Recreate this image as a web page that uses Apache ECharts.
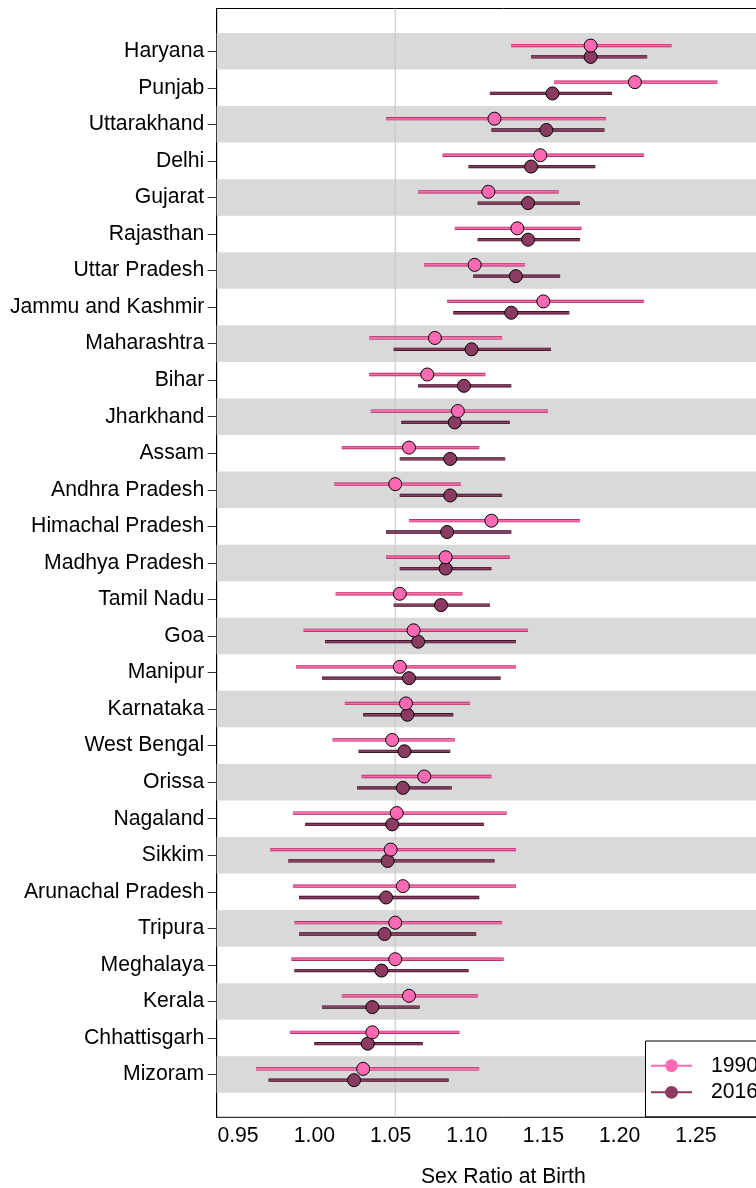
<!DOCTYPE html>
<html>
<head>
<meta charset="utf-8">
<script src="https://cdn.jsdelivr.net/npm/echarts@6/dist/echarts.min.js"></script>
<style>
  html, body { margin: 0; padding: 0; background: #fff; overflow: hidden; }
  #chart { width: 800px; height: 1188px; }
</style>
</head>
<body>
<div id="chart"></div>
<script>
// ---- data ----
const states = ['Haryana','Punjab','Uttarakhand','Delhi','Gujarat','Rajasthan','Uttar Pradesh',
  'Jammu and Kashmir','Maharashtra','Bihar','Jharkhand','Assam','Andhra Pradesh','Himachal Pradesh',
  'Madhya Pradesh','Tamil Nadu','Goa','Manipur','Karnataka','West Bengal','Orissa','Nagaland',
  'Sikkim','Arunachal Pradesh','Tripura','Meghalaya','Kerala','Chhattisgarh','Mizoram'];

const est1990 = [1.181,1.210,1.118,1.148,1.114,1.133,1.105,1.150,1.079,1.074,1.094,1.062,1.053,1.116,
  1.086,1.056,1.065,1.056,1.060,1.051,1.072,1.054,1.050,1.058,1.053,1.053,1.062,1.038,1.032];
const lo1990 = [1.129,1.157,1.047,1.084,1.068,1.092,1.072,1.087,1.036,1.036,1.037,1.018,1.013,1.062,
  1.047,1.014,0.993,0.988,1.020,1.012,1.031,0.986,0.971,0.986,0.987,0.985,1.018,0.984,0.962];
const hi1990 = [1.234,1.264,1.191,1.216,1.160,1.175,1.138,1.216,1.123,1.112,1.153,1.108,1.096,1.174,
  1.128,1.097,1.140,1.132,1.102,1.092,1.116,1.126,1.132,1.132,1.123,1.124,1.107,1.095,1.108];

const est2016 = [1.181,1.156,1.152,1.142,1.140,1.140,1.132,1.129,1.103,1.098,1.092,1.089,1.089,1.087,
  1.086,1.083,1.068,1.062,1.061,1.059,1.058,1.051,1.048,1.047,1.046,1.044,1.038,1.035,1.026];
const lo2016 = [1.142,1.115,1.116,1.101,1.107,1.107,1.104,1.091,1.052,1.068,1.057,1.056,1.056,1.047,
  1.056,1.052,1.007,1.005,1.032,1.029,1.028,0.994,0.983,0.990,0.990,0.987,1.005,1.000,0.970];
const hi2016 = [1.218,1.195,1.190,1.184,1.174,1.174,1.161,1.167,1.155,1.129,1.128,1.125,1.123,1.129,
  1.116,1.115,1.132,1.122,1.091,1.089,1.090,1.111,1.118,1.108,1.106,1.101,1.069,1.071,1.088];

const xTicks = [0.95, 1.00, 1.05, 1.10, 1.15, 1.20, 1.25];
const referenceRatio = 1.053;
const seriesNames = ['1990', '2016'];
const axisTitle = 'Sex Ratio at Birth';

// ---- styling ----
const FONT = "'Liberation Sans', Arial, Helvetica, sans-serif";
const FS = 21.2;
const PINK = '#FF69B4';
const MAROON = '#8B3A62';
const BAND = '#d9d9d9';
const OFFSET = 0.155;          // vertical offset of each year within its row (row units)
const X_MIN = 0.93605, X_MAX = 1.31159;
const Y_MIN = -1.17, Y_MAX = 29.17;

const rowIdx = states.map((_, i) => i);
const shaded = rowIdx.filter(i => i % 2 === 0);

function barData(lo, hi, off) {
  return rowIdx.map(i => [lo[i], hi[i], i + off]);
}
function pointData(est, off) {
  return rowIdx.map(i => [est[i], i + off]);
}

function errRender(color, under) {
  return function (params, api) {
    const y = api.value(2);
    const p1 = api.coord([api.value(0), y]);
    const p2 = api.coord([api.value(1), y]);
    return {
      type: 'group',
      children: [
        { type: 'line', shape: { x1: p1[0], y1: p1[1], x2: p2[0], y2: p2[1] },
          style: { stroke: under, lineWidth: 3.3, lineCap: 'butt' } },
        { type: 'line', shape: { x1: p1[0], y1: p1[1], x2: p2[0], y2: p2[1] },
          style: { stroke: color, lineWidth: 2.0, lineCap: 'butt' } }
      ]
    };
  };
}

const chart = echarts.init(document.getElementById('chart'), null, { renderer: 'canvas' });
chart.setOption({
  animation: false,
  backgroundColor: '#fff',
  textStyle: { fontFamily: FONT },
  grid: {
    left: 216.7, top: 8.5, width: 573.3, height: 1108.8,
    outerBoundsMode: 'none', containLabel: false,
    show: true, borderColor: '#000', borderWidth: 1, backgroundColor: 'transparent'
  },
  xAxis: {
    type: 'value', min: X_MIN, max: X_MAX,
    axisLine: { show: true, lineStyle: { color: '#000', width: 1 } },
    axisTick: { show: true, length: 9, customValues: xTicks, lineStyle: { color: '#333' } },
    axisLabel: { customValues: xTicks, formatter: v => v.toFixed(2), fontSize: FS, color: '#000',
      margin: 8.5, fontFamily: FONT },
    splitLine: { show: false },
    name: axisTitle, nameLocation: 'middle', nameGap: 49,
    nameTextStyle: { fontSize: FS, color: '#000', fontFamily: FONT }
  },
  yAxis: {
    type: 'value', inverse: true, min: Y_MIN, max: Y_MAX,
    axisLine: { show: true, lineStyle: { color: '#000', width: 1 } },
    axisTick: { show: true, length: 9, customValues: rowIdx, lineStyle: { color: '#333' } },
    axisLabel: { customValues: rowIdx, formatter: v => states[Math.round(v)], fontSize: FS,
      color: '#000', margin: 12.5, fontFamily: FONT },
    splitLine: { show: false }
  },
  legend: {
    orient: 'vertical', left: 645.5, top: 1041,
    data: seriesNames,
    itemWidth: 41, itemHeight: 16, itemGap: 5.6,
    padding: [14.2, 14, 14, 4.5],
    borderColor: '#000', borderWidth: 1, borderRadius: 0, backgroundColor: '#fff',
    textStyle: { fontSize: FS, color: '#000', fontFamily: FONT, lineHeight: 20, padding: [0, 0, 0, 14] },
    selectedMode: false
  },
  series: [
    {
      type: 'custom', name: 'bands', silent: true, z: 1,
      data: shaded.map(i => [i]),
      encode: { y: 0 },
      renderItem: function (params, api) {
        const i = api.value(0);
        const cs = params.coordSys;
        const a = api.coord([X_MIN, i - 0.5]);
        const b = api.coord([X_MIN, i + 0.5]);
        return { type: 'rect',
          shape: { x: cs.x, y: Math.min(a[1], b[1]), width: cs.width, height: Math.abs(b[1] - a[1]) },
          style: { fill: BAND } };
      }
    },
    {
      type: 'custom', name: 'reference', silent: true, z: 2,
      data: [[referenceRatio]],
      encode: { x: 0 },
      renderItem: function (params, api) {
        const v = api.value(0);
        const a = api.coord([v, Y_MIN]);
        const b = api.coord([v, Y_MAX]);
        return { type: 'line', shape: { x1: a[0], y1: a[1], x2: b[0], y2: b[1] },
          style: { stroke: '#c6c6c6', lineWidth: 1 } };
      }
    },
    {
      type: 'custom', name: '2016 bars', silent: true, z: 3,
      data: barData(lo2016, hi2016, OFFSET),
      encode: { x: [0, 1], y: 2 },
      renderItem: errRender(MAROON, '#2a0c1b')
    },
    {
      type: 'custom', name: '1990 bars', silent: true, z: 3,
      data: barData(lo1990, hi1990, -OFFSET),
      encode: { x: [0, 1], y: 2 },
      renderItem: errRender(PINK, '#a3204f')
    },
    {
      type: 'scatter', name: '2016 points', z: 4, silent: true,
      data: pointData(est2016, OFFSET),
      symbol: 'circle', symbolSize: 13,
      itemStyle: { color: MAROON, borderColor: '#000', borderWidth: 1, opacity: 1 }
    },
    {
      type: 'scatter', name: '1990 points', z: 5, silent: true,
      data: pointData(est1990, -OFFSET),
      symbol: 'circle', symbolSize: 13,
      itemStyle: { color: PINK, borderColor: '#000', borderWidth: 1, opacity: 1 }
    },
    {
      type: 'line', name: seriesNames[0], data: [], symbol: 'circle', symbolSize: 13,
      itemStyle: { color: PINK, borderWidth: 0 },
      lineStyle: { color: PINK, width: 3.3 }
    },
    {
      type: 'line', name: seriesNames[1], data: [], symbol: 'circle', symbolSize: 13,
      itemStyle: { color: MAROON, borderWidth: 0 },
      lineStyle: { color: MAROON, width: 3.3 }
    }
  ]
});
</script>
</body>
</html>
